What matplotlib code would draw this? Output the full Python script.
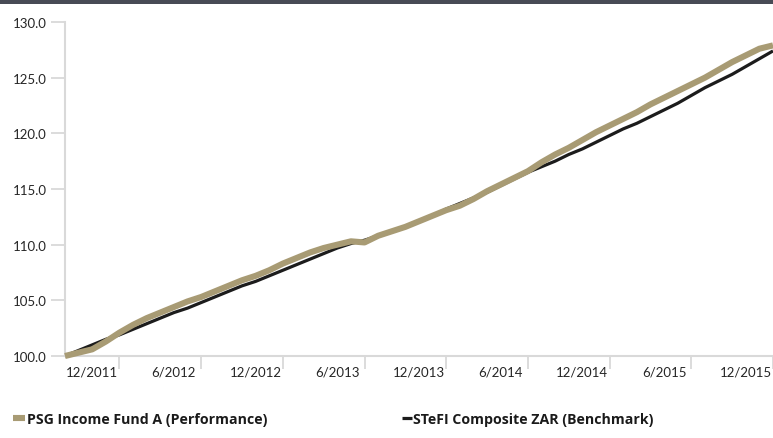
import matplotlib
matplotlib.use("Agg")
import matplotlib.pyplot as plt
from matplotlib.lines import Line2D
from matplotlib.patches import Rectangle

plt.rcParams['font.family'] = ['Lato', 'DejaVu Sans']

# monthly index values, 10/2011 .. 2/2016
fund = [100.0, 100.3, 100.6, 101.3, 102.1, 102.8, 103.4, 103.9, 104.4, 104.9,
        105.3, 105.8, 106.3, 106.8, 107.2, 107.7, 108.3, 108.8, 109.3, 109.7,
        110.0, 110.3, 110.2, 110.8, 111.2, 111.6, 112.1, 112.6, 113.1, 113.5,
        114.1, 114.8, 115.4, 116.0, 116.6, 117.4, 118.1, 118.7, 119.4, 120.1,
        120.7, 121.3, 121.9, 122.6, 123.2, 123.8, 124.4, 125.0, 125.7, 126.4,
        127.0, 127.6, 127.9]
bench = [100.0, 100.5, 101.0, 101.5, 101.9, 102.4, 102.9, 103.4, 103.9, 104.3,
         104.8, 105.3, 105.8, 106.3, 106.7, 107.2, 107.7, 108.2, 108.7, 109.2,
         109.7, 110.1, 110.4, 110.8, 111.2, 111.6, 112.1, 112.6, 113.2, 113.7,
         114.2, 114.7, 115.3, 115.9, 116.5, 117.0, 117.5, 118.1, 118.6, 119.2,
         119.8, 120.4, 120.9, 121.5, 122.1, 122.7, 123.4, 124.1, 124.7, 125.3,
         126.0, 126.7, 127.4]
label_pos = [2, 8, 14, 20, 26, 32, 38, 44, 50]
tick_labels = ['12/2011', '6/2012', '12/2012', '6/2013', '12/2013',
               '6/2014', '12/2014', '6/2015', '12/2015']
tick_pos = [4, 10, 16, 22, 28, 34, 40, 46, 52]
yticks = [100, 105, 110, 115, 120, 125, 130]

gold = '#a89b74'
dark = '#1c1c1c'
grey = '#d9d9d9'
W, H = 773, 439

fig = plt.figure(figsize=(W / 100, H / 100), dpi=100)
ax = fig.add_axes([65 / W, (H - 357) / H, (W - 65) / W, (357 - 23) / H])

x = list(range(len(fund)))
ax.plot(x, bench, color=dark, lw=2.3, clip_on=False, solid_capstyle='butt',
        solid_joinstyle='round', zorder=2)
ax.plot(x, fund, color=gold, lw=4.4, clip_on=False, solid_capstyle='butt',
        solid_joinstyle='round', zorder=3)

ax.set_xlim(0, 52)
ax.set_ylim(100, 130)
ax.set_yticks(yticks)
ax.set_yticklabels([f'{v:.1f}' for v in yticks])

ax.set_xticks(tick_pos)
ax.set_xticklabels([])
ax.set_xticks(label_pos, minor=True)
ax.set_xticklabels(tick_labels, minor=True)
ax.tick_params(axis='x', which='major', length=9, width=1.3, color=grey)
ax.tick_params(axis='x', which='minor', length=0, pad=7, labelsize=9.5, labelcolor='#262626')
ax.tick_params(axis='y', length=10, width=1.3, color=grey, pad=3, labelsize=9.5,
               labelcolor='#262626')

for s in ['top', 'right']:
    ax.spines[s].set_visible(False)
for s in ['left', 'bottom']:
    ax.spines[s].set_color(grey)
    ax.spines[s].set_linewidth(1.5)

# dark band at the top
fig.add_artist(Rectangle((0, 1 - 5 / H), 1, 5 / H, transform=fig.transFigure,
                         color='#484b55', lw=0))

# legend
fig.add_artist(Line2D([13 / W, 25 / W], [1 - 419 / H] * 2, color=gold, lw=4.4,
                      solid_capstyle='butt'))
fig.text(27 / W, 1 - 420 / H, 'PSG Income Fund A (Performance)', fontsize=10.2,
         family=['Open Sans', 'DejaVu Sans'], fontweight='bold', va='center',
         color='#1a1a1a')
fig.add_artist(Line2D([402 / W, 412 / W], [1 - 419 / H] * 2, color=dark, lw=2.3,
                      solid_capstyle='butt'))
fig.text(413 / W, 1 - 420 / H, 'STeFI Composite ZAR (Benchmark)', fontsize=10.2,
         family=['Open Sans', 'DejaVu Sans'], fontweight='bold', va='center',
         color='#1a1a1a')

fig.savefig('out.png', dpi=100)
